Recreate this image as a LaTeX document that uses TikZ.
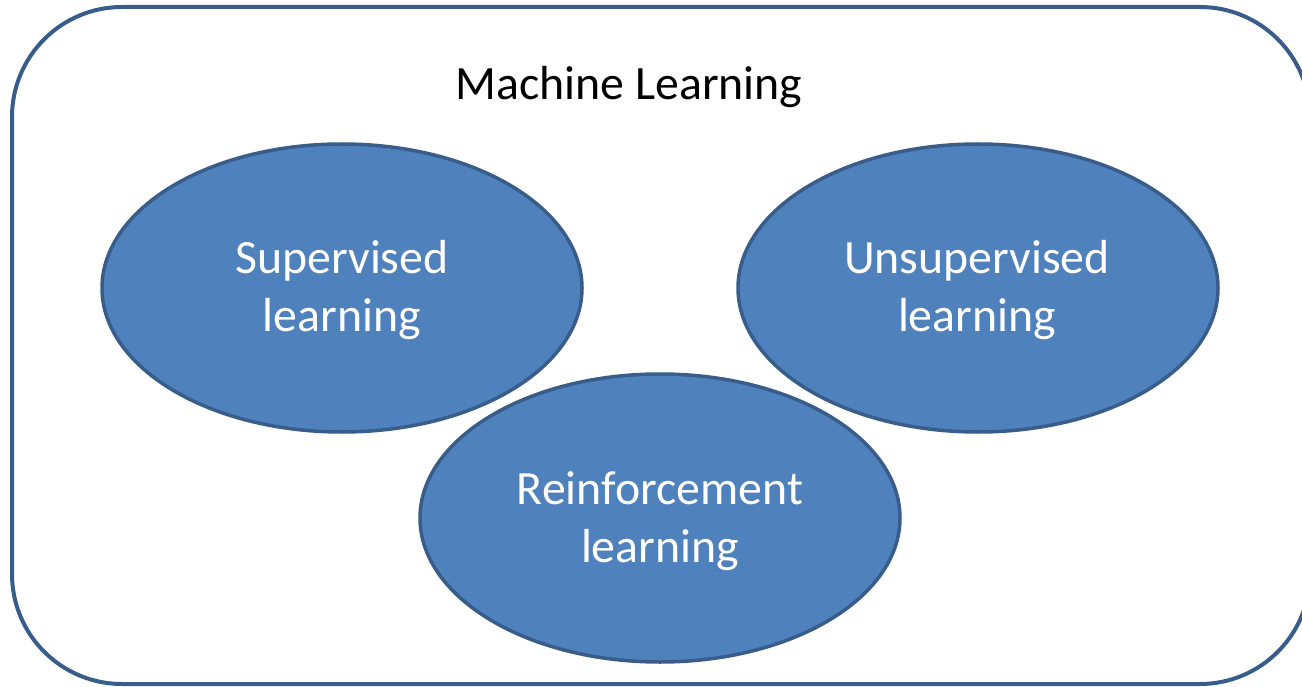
\documentclass[tikz,border=0pt]{standalone}
\usepackage{fontspec}
\setmainfont{Carlito}
\usetikzlibrary{shapes.geometric}
\definecolor{ovalfill}{HTML}{4F81BD}
\definecolor{ovaledge}{HTML}{385D8A}
\begin{document}
\begin{tikzpicture}[x=1pt,y=-1pt,
  frame/.style={draw=ovaledge,line width=4pt,rounded corners=110pt},
  oval/.style={ellipse,draw=ovaledge,fill=ovalfill,line width=3.5pt,inner sep=0pt,minimum width=480pt,minimum height=288pt},
  ovaltext/.style={text=white,font=\fontsize{47.8}{57}\selectfont,anchor=base,inner sep=0pt},
  titletext/.style={text=black,font=\fontsize{47.8}{57}\selectfont,anchor=base,inner sep=0pt}]
\useasboundingbox (0,0) rectangle (1302,687);
\draw[frame] (12,7) rectangle (1310,684);
\node[titletext] (title) at (629,100) {Machine Learning};
\node[oval] (sup) at (342,288) {};
\node[oval] (unsup) at (978,288) {};
\node[oval] (rein) at (660,518) {};
\node[ovaltext] (sup1) at (342,274) {Supervised};
\node[ovaltext] (sup2) at (342,331) {learning};
\node[ovaltext] (uns1) at (977,274) {Unsupervised};
\node[ovaltext] (uns2) at (977,331) {learning};
\node[ovaltext] (rei1) at (660,504) {Reinforcement};
\node[ovaltext] (rei2) at (660,562) {learning};
\end{tikzpicture}
\end{document}
